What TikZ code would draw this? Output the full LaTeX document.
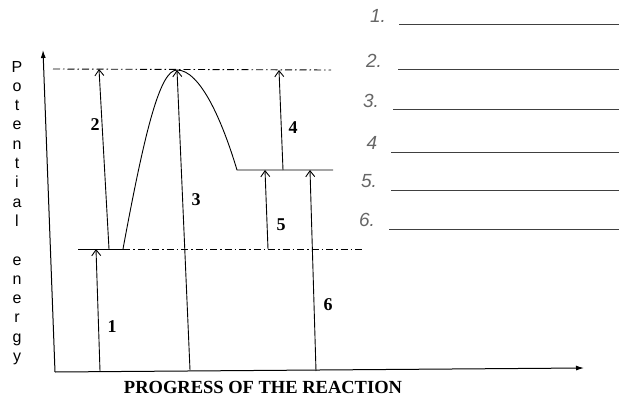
\documentclass[tikz,border=0pt]{standalone}
\usepackage{fontspec}
\setmainfont{Liberation Serif}
\setsansfont{Liberation Sans}
\usetikzlibrary{arrows.meta}
\begin{document}
\begin{tikzpicture}[x=1pt,y=-1pt,
  axis/.style={line width=1pt,-{Latex[length=8pt,width=5pt]}},
  ln/.style={line width=0.9pt},
  tip/.style={line width=0.9pt,-{Straight Barb[length=6pt,width=9pt]}},
  dd/.style={line width=0.9pt,dash pattern=on 7pt off 3pt on 1.5pt off 3pt},
  num/.style={font=\bfseries\fontsize{18}{18}\selectfont,inner sep=0pt},
  hw/.style={font=\sffamily\itshape\fontsize{19}{19}\selectfont,text=black!60,inner sep=0pt},
  blank/.style={line width=1pt,black!75}]
\useasboundingbox (0,0) rectangle (619,396);
% axes
\coordinate (O) at (55,372);
\coordinate (Ytop) at (43,50);
\coordinate (Xend) at (584,368);
\draw[axis] (O) -- (Ytop);
\draw[axis] (O) -- (Xend);
% levels
\coordinate (L1) at (78,249);
\coordinate (R0) at (123,249);
\coordinate (L2) at (362,249);
\coordinate (T1) at (53,69);
\coordinate (Pk) at (177,70);
\coordinate (T2) at (331,70);
\coordinate (P0) at (237,170);
\coordinate (P1) at (333,170);
\draw[ln] (L1) -- (R0);
\draw[dd] (R0) -- (L2);
\draw[dd] (T1) -- (T2);
\draw[ln] (R0) .. controls (145,130) and (160,70) .. (Pk)
          .. controls (200,70) and (222,120) .. (P0) -- (P1);
% arrows
\coordinate (a1s) at (100,371); \coordinate (a1e) at (96,249);
\coordinate (a2s) at (109,249); \coordinate (a2e) at (99,69);
\coordinate (a3s) at (190,370); \coordinate (a3e) at (177,70);
\coordinate (a4s) at (283,170); \coordinate (a4e) at (279,70);
\coordinate (a5s) at (268,249); \coordinate (a5e) at (265,170);
\coordinate (a6s) at (316,371); \coordinate (a6e) at (310,170);
\draw[tip] (a1s) -- (a1e);
\draw[tip] (a2s) -- (a2e);
\draw[tip] (a3s) -- (a3e);
\draw[tip] (a4s) -- (a4e);
\draw[tip] (a5s) -- (a5e);
\draw[tip] (a6s) -- (a6e);
\node[num] (n1) at (112,327) {1};
\node[num] (n2) at (95,125) {2};
\node[num] (n3) at (196,200) {3};
\node[num] (n4) at (293,128) {4};
\node[num] (n5) at (281,225) {5};
\node[num] (n6) at (328,305) {6};
% axis labels
\node[font=\sffamily\fontsize{16}{19.3}\selectfont,align=center,inner sep=0pt] (ylab) at (17,213)
 {P\\o\\t\\e\\n\\t\\i\\a\\l\\[19.3pt]e\\n\\e\\r\\g\\y};
\node[font=\bfseries\fontsize{18.5}{18.5}\selectfont,inner sep=0pt,anchor=base] (xlab) at (263,393) {PROGRESS OF THE REACTION};
% blanks
\foreach \i/\t/\y/\x/\lx in {1/1./25/399/378, 2/2./70/398/374, 3/3./110/393/371, 4/4/152/391/372, 5/5./190/391/369, 6/6./229/389/367}{
  \node[hw] (h\i) at (\lx,\y-9) {\t};
  \coordinate (bs\i) at (\x,\y);
  \coordinate (be\i) at (619,\y);
  \draw[blank] (bs\i) -- (be\i);
}
\end{tikzpicture}
\end{document}
